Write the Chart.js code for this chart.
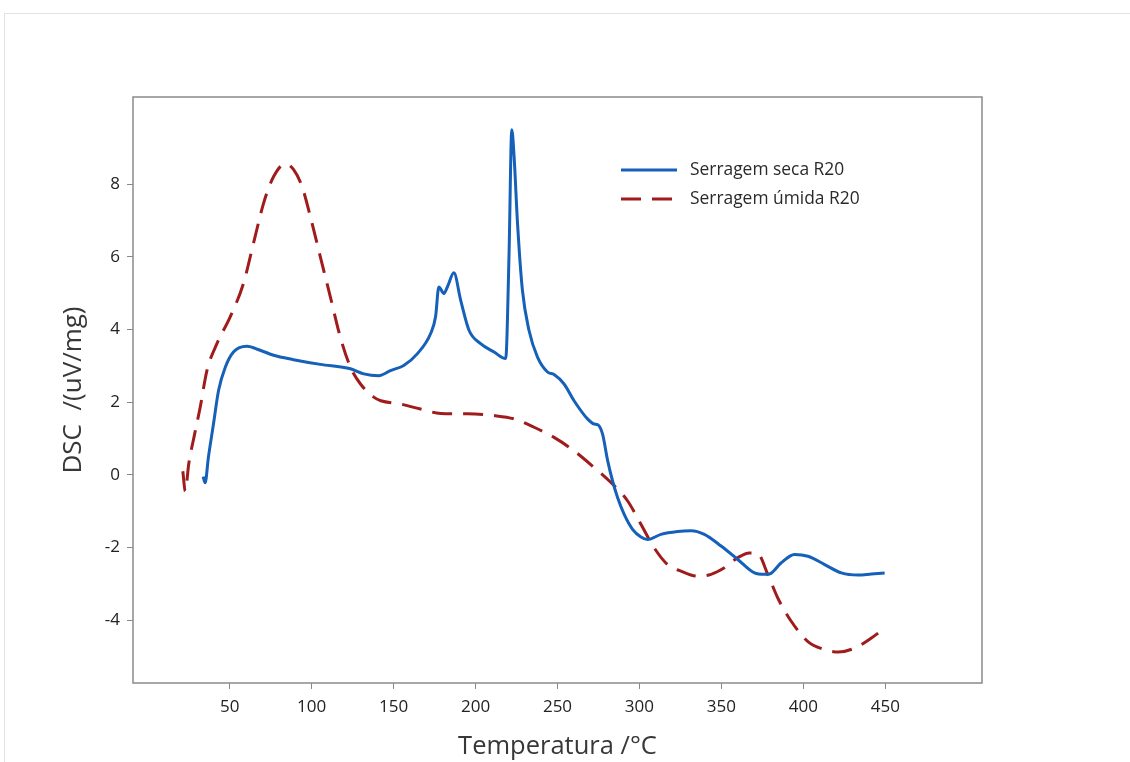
<!DOCTYPE html>
<html>
<head>
<meta charset="utf-8">
<script src="https://cdn.jsdelivr.net/npm/chart.js@4.4.0/dist/chart.umd.min.js"></script>
<style>
  html, body { margin: 0; padding: 0; background: #fff; }
  #moldura { position: absolute; left: 4px; top: 13px; right: 0; bottom: 0;
             border-top: 1px solid #e2e2e2; border-left: 1px solid #e2e2e2; }
  #wrap { position: absolute; left: 0; top: 0; width: 1130px; height: 762px; }
</style>
</head>
<body>
<div id="moldura"></div>
<div id="wrap"><canvas id="grafico" width="1130" height="762"></canvas></div>
<script>
// curva seca
const tempSeca = [33.8, 35.0, 37.0, 40.1, 43.2, 47.3, 52.3, 60.5, 68.6, 76.8, 89.0, 105.3, 123.7, 131.8, 141.0,
  148.1, 156.2, 164.4, 172.6, 175.6, 177.6, 180.7, 182.8, 186.8, 190.9, 196.0, 203.1, 211.3, 218.4, 220.4,
  222.1, 223.5, 225.6, 228.6, 232.6, 237.8, 243.9, 247.9, 254.0, 260.1, 268.3, 272.4, 274.6, 277.5, 280.6,
  283.6, 286.7, 290.7, 295.8, 300.9, 305.0, 313.1, 323.3, 331.5, 339.6, 349.8, 360.0, 370.2, 376.3, 379.3,
  386.5, 394.6, 402.8, 413.0, 423.2, 433.4, 441.5, 449.6];
const dscSeca = [-0.05, -0.22, 0.48, 1.40, 2.32, 2.96, 3.38, 3.54, 3.43, 3.29, 3.17, 3.04, 2.92, 2.78, 2.73,
  2.87, 3.01, 3.33, 3.89, 4.35, 5.17, 4.99, 5.17, 5.56, 4.81, 3.98, 3.61, 3.38, 3.20, 6.00,
  9.50, 8.77, 6.93, 5.08, 3.98, 3.24, 2.83, 2.76, 2.50, 2.04, 1.54, 1.40, 1.38, 1.12, 0.39,
  -0.17, -0.63, -1.09, -1.50, -1.71, -1.78, -1.64, -1.56, -1.54, -1.64, -1.96, -2.33, -2.70, -2.74, -2.73,
  -2.42, -2.19, -2.24, -2.47, -2.70, -2.76, -2.73, -2.70];

// curva umida
const tempUmida = [21.4, 22.9, 25.0, 28.5, 32.0, 36.1, 42.2, 50.3, 58.4, 64.5, 70.7, 76.8, 83.9, 89.0, 94.1,
  99.2, 105.3, 111.4, 117.5, 123.7, 129.8, 137.9, 142.2, 154.2, 166.4, 178.7, 195.0, 211.3, 223.5, 235.7,
  247.9, 260.1, 272.4, 282.6, 292.8, 300.9, 309.0, 317.2, 325.3, 335.5, 343.7, 351.8, 360.0, 367.1, 372.2,
  378.3, 384.4, 392.6, 402.8, 413.0, 421.2, 431.3, 441.5, 449.6];
const dscUmida = [0.10, -0.45, 0.30, 1.10, 1.86, 2.87, 3.61, 4.35, 5.27, 6.37, 7.48, 8.21, 8.56, 8.40, 7.94,
  7.11, 6.00, 4.90, 3.79, 2.96, 2.50, 2.14, 2.04, 1.95, 1.81, 1.69, 1.68, 1.63, 1.54, 1.31,
  1.03, 0.66, 0.20, -0.21, -0.72, -1.36, -2.01, -2.47, -2.65, -2.79, -2.74, -2.56, -2.28, -2.15, -2.17,
  -2.74, -3.39, -4.03, -4.59, -4.81, -4.88, -4.77, -4.49, -4.22];

const ticksTemp = [50, 100, 150, 200, 250, 300, 350, 400, 450];
const ticksDsc = [-4, -2, 0, 2, 4, 6, 8];
const rotulos = ["Serragem seca R20", "Serragem úmida R20"];

const fonte = "'Open Sans', 'Noto Sans', sans-serif";

const pontos = (xs, ys) => xs.map((x, i) => ({ x: x, y: ys[i] }));

// moldura em volta da area do grafico
const moldura = {
  id: "moldura",
  afterDraw(chart) {
    const a = chart.chartArea;
    const ctx = chart.ctx;
    ctx.save();
    ctx.strokeStyle = "#8a8a8a";
    ctx.lineWidth = 1.5;
    ctx.strokeRect(a.left, a.top, a.right - a.left, a.bottom - a.top);
    ctx.restore();
  }
};

// legenda dentro do grafico
const legenda = {
  id: "legenda",
  afterDraw(chart) {
    const ctx = chart.ctx;
    ctx.save();
    chart.data.datasets.forEach((ds, i) => {
      const y = 170 + i * 29;
      ctx.strokeStyle = ds.borderColor;
      ctx.lineWidth = 3;
      ctx.setLineDash(ds.borderDash || []);
      ctx.beginPath();
      ctx.moveTo(621, y);
      ctx.lineTo(677, y);
      ctx.stroke();
      ctx.setLineDash([]);
      ctx.fillStyle = "#2a2a2a";
      ctx.font = "17.4px " + fonte;
      ctx.textBaseline = "middle";
      ctx.fillText(ds.label, 690, y);
    });
    ctx.restore();
  }
};

const ctx = document.getElementById("grafico").getContext("2d");

new Chart(ctx, {
  type: "scatter",
  data: {
    datasets: [
      {
        label: rotulos[0],
        data: pontos(tempSeca, dscSeca),
        showLine: true,
        borderColor: "#1560b8",
        borderWidth: 3,
        pointRadius: 0,
        cubicInterpolationMode: "monotone"
      },
      {
        label: rotulos[1],
        data: pontos(tempUmida, dscUmida),
        showLine: true,
        borderColor: "#a01b1b",
        borderWidth: 3,
        borderDash: [20, 11],
        pointRadius: 0,
        cubicInterpolationMode: "monotone"
      }
    ]
  },
  options: {
    responsive: false,
    animation: false,
    devicePixelRatio: 1,
    layout: { padding: { left: 0, right: 148, top: 97, bottom: 0 } },
    plugins: { legend: { display: false }, tooltip: { enabled: false } },
    scales: {
      x: {
        type: "linear",
        min: -9,
        max: 509,
        afterBuildTicks: s => { s.ticks = ticksTemp.map(v => ({ value: v })); },
        afterFit: s => { s.height = 79; },
        grid: { drawOnChartArea: false, tickLength: 6, color: "#888", lineWidth: 1 },
        border: { display: false },
        ticks: { color: "#222", padding: 8, maxRotation: 0, font: { family: fonte, size: 17 } },
        title: { display: true, text: "Temperatura /°C", color: "#383838",
                 font: { family: fonte, size: 25.5 }, padding: { top: 0, bottom: 0 } }
      },
      y: {
        min: -5.73,
        max: 10.4,
        afterBuildTicks: s => { s.ticks = ticksDsc.map(v => ({ value: v })); },
        afterFit: s => { s.width = 133; },
        grid: { drawOnChartArea: false, tickLength: 6, color: "#888", lineWidth: 1 },
        border: { display: false },
        ticks: { color: "#222", padding: 7, font: { family: fonte, size: 17 } },
        title: { display: true, text: "DSC  /(uV/mg)", color: "#383838",
                 font: { family: fonte, size: 26 }, padding: { top: 58, bottom: 0 } }
      }
    }
  },
  plugins: [moldura, legenda]
});
</script>
</body>
</html>
